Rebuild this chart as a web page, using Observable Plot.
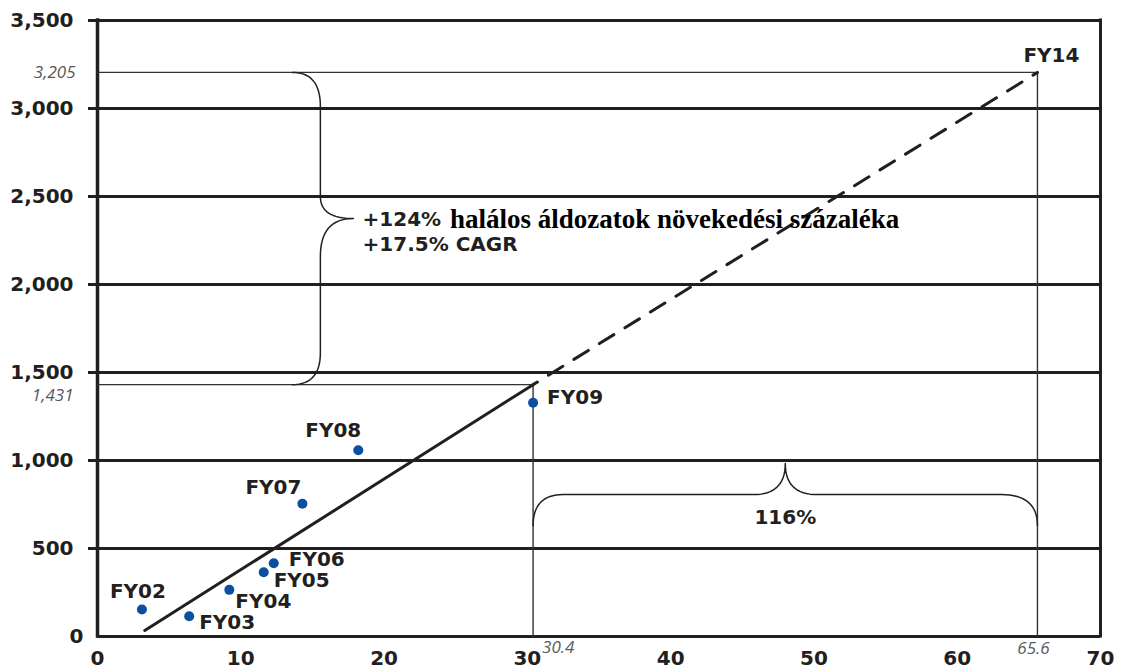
<!DOCTYPE html>
<html><head><meta charset="utf-8">
<script src="https://cdn.jsdelivr.net/npm/d3@7"></script>
<script src="https://cdn.jsdelivr.net/npm/@observablehq/plot@0.6"></script>
<style>
html,body{margin:0;padding:0;background:#fff;}
#chart{width:1121px;height:672px;overflow:hidden;}
</style></head><body><div id="chart"></div>
<script>
// ---- data ----
const years   = ["FY02","FY03","FY04","FY05","FY06","FY07","FY08","FY09"];
const xValues = [3.1, 6.4, 9.2, 11.6, 12.3, 14.3, 18.2, 30.4];
const yValues = [153, 115, 265, 365, 416, 754, 1058, 1328];
const trendX  = [3.3, 30.4];
const trendY  = [34, 1431];
const projX   = [30.4, 65.6];
const projY   = [1431, 3205];
const endLabel = "FY14";
const xTicks  = [0, 10, 20, 30, 40, 50, 60, 70];
const yTicks  = [500, 1000, 1500, 2000, 2500, 3000, 3500];
const refX    = [30.4, 65.6];
const refY    = [1431, 3205];
const growthLabel1 = "+124%";
const growthLabel1b = "halálos áldozatok növekedési százaléka";
const growthLabel2 = "+17.5% CAGR";
const xGrowthLabel = "116%";

// ---- layout / style ----
const W = 1121, H = 672, ML = 97, MR = 21, MT = 20, MB = 36;
const INK = "#231f20";
const SANS = "DejaVu Sans, Verdana, sans-serif";
const SERIF = "Liberation Serif, Times New Roman, serif";
const ITAL = "Open Sans, sans-serif";
const labelPos = {
  FY02: {a: "middle", dx: -4, dy: -18},
  FY03: {a: "start", dx: 10, dy: 6},
  FY04: {a: "start", dx: 6, dy: 12},
  FY05: {a: "start", dx: 10, dy: 8},
  FY06: {a: "start", dx: 15, dy: -4},
  FY07: {a: "end", dx: -1, dy: -16},
  FY08: {a: "end", dx: 3, dy: -20},
  FY09: {a: "start", dx: 14, dy: -5}
};

const points = years.map((k, i) => ({k, x: xValues[i], y: yValues[i]}));
const trend = trendX.map((x, i) => ({x, y: trendY[i]}));
const proj = projX.map((x, i) => ({x, y: projY[i]}));

// scales mirroring the plot scales, used to shape the braces
const xs = d3.scaleLinear([0, 70], [ML, W - MR]);
const ys = d3.scaleLinear([0, 3500], [H - MB, MT]);
function quad(p0, p1, p2, n = 16) {
  const o = [];
  for (let i = 0; i <= n; i++) {
    const t = i / n;
    o.push([(1-t)*(1-t)*p0[0] + 2*(1-t)*t*p1[0] + t*t*p2[0],
            (1-t)*(1-t)*p0[1] + 2*(1-t)*t*p1[1] + t*t*p2[1]]);
  }
  return o;
}
const toData = pts => pts.map(([px, py]) => ({x: xs.invert(px), y: ys.invert(py)}));

// vertical brace between the two reference values
const xe = xs(13.6), yT = ys(refY[1]), yB = ys(refY[0]);
const xsp = xe + 28, xt = xe + 61, yt = (yT + yB) / 2 - 10;
const braceV = toData([
  ...quad([xe, yT], [xsp, yT], [xsp, yT + 34]),
  ...quad([xsp, yt - 22], [xsp, yt], [xt, yt]),
  ...quad([xt, yt], [xsp, yt], [xsp, yt + 38]),
  ...quad([xsp, yB - 32], [xsp, yB], [xe, yB])
]);
// horizontal brace between the two reference x values
const xL = xs(refX[0]), xR = xs(refX[1]), ye = ys(630), sp = ye - 31, tipY = ye - 62, xm = (xL + xR) / 2;
const braceH = toData([
  ...quad([xL, ye], [xL, sp], [xL + 30, sp]),
  ...quad([xm - 32, sp], [xm, sp], [xm, tipY]),
  ...quad([xm, tipY], [xm, sp], [xm + 32, sp]),
  ...quad([xR - 36, sp], [xR, sp], [xR, ye])
]);

const labelMarks = points.map(p => {
  const s = labelPos[p.k];
  return Plot.text([p], {x: "x", y: "y", text: "k", textAnchor: s.a, dx: s.dx, dy: s.dy,
    fontSize: 20, fontWeight: "bold", fontFamily: SANS, fill: INK});
});

const chart = Plot.plot({
  width: W, height: H,
  marginLeft: ML, marginRight: MR, marginTop: MT, marginBottom: MB,
  style: {fontFamily: SANS, fontSize: "20px", fontWeight: "bold", color: INK, background: "#fff", overflow: "visible"},
  x: {domain: [0, 70], label: null},
  y: {domain: [0, 3500], label: null},
  marks: [
    // grid & frame
    Plot.ruleY(yTicks, {stroke: INK, strokeWidth: 3}),
    Plot.ruleY([0], {stroke: INK, strokeWidth: 3}),
    Plot.ruleX([0], {stroke: INK, strokeWidth: 3.5, y1: 0, y2: 3500, strokeLinecap: "square"}),
    Plot.ruleX([70], {stroke: INK, strokeWidth: 3, y1: 0, y2: 3500, strokeLinecap: "square"}),
    // reference lines
    Plot.ruleY([refY[1]], {x1: 0, x2: refX[1], stroke: "#333", strokeWidth: 1.4}),
    Plot.ruleY([refY[0]], {x1: 0, x2: refX[0], stroke: "#333", strokeWidth: 1.4}),
    Plot.ruleX([refX[0]], {y1: 0, y2: refY[0], stroke: "#333", strokeWidth: 1.4}),
    Plot.ruleX([refX[1]], {y1: 0, y2: refY[1], stroke: "#333", strokeWidth: 1.4}),
    // braces
    Plot.line(braceV, {x: "x", y: "y", stroke: INK, strokeWidth: 1.5}),
    Plot.line(braceH, {x: "x", y: "y", stroke: INK, strokeWidth: 1.5}),
    // trend
    Plot.line(trend, {x: "x", y: "y", stroke: INK, strokeWidth: 3}),
    Plot.line(proj, {x: "x", y: "y", stroke: INK, strokeWidth: 3, strokeDasharray: "17,13", strokeDashoffset: -18}),
    // points
    Plot.dot(points, {x: "x", y: "y", r: 5, fill: "#0b4ea2", stroke: "none"}),
    ...labelMarks,
    Plot.text([proj[1]], {x: "x", y: "y", text: () => endLabel, textAnchor: "start", dx: -14, dy: -17,
      fontSize: 20, fontWeight: "bold", fontFamily: SANS, fill: INK}),
    // reference value labels
    Plot.text([refY[1]], {x: () => 0, y: d => d, text: d => d3.format(",")(d), textAnchor: "end", dx: -22, dy: 0,
      fontSize: 17, fontStyle: "italic", fontWeight: "normal", fontFamily: ITAL, fill: "#58595b"}),
    Plot.text([refY[0]], {x: () => 0, y: d => d, text: d => d3.format(",")(d), textAnchor: "end", dx: -24, dy: 11,
      fontSize: 17, fontStyle: "italic", fontWeight: "normal", fontFamily: ITAL, fill: "#58595b"}),
    Plot.text([refX[0]], {x: d => d, y: () => 0, text: d => String(d), textAnchor: "start", dx: 9, dy: 11,
      fontSize: 17, fontStyle: "italic", fontWeight: "normal", fontFamily: ITAL, fill: "#58595b"}),
    Plot.text([refX[1]], {x: d => d, y: () => 0, text: d => String(d), textAnchor: "middle", dx: -4, dy: 12,
      fontSize: 17, fontStyle: "italic", fontWeight: "normal", fontFamily: ITAL, fill: "#58595b"}),
    // annotations
    Plot.text([{x: 18.5, y: 2369}], {x: "x", y: "y", text: () => growthLabel1, textAnchor: "start",
      fontSize: 20, fontWeight: "bold", fontFamily: SANS, fill: INK}),
    Plot.text([{x: 24.6, y: 2369}], {x: "x", y: "y", text: () => growthLabel1b, textAnchor: "start",
      fontSize: 27, fontWeight: "bold", fontFamily: SERIF, fill: "#000"}),
    Plot.text([{x: 18.5, y: 2224}], {x: "x", y: "y", text: () => growthLabel2, textAnchor: "start",
      fontSize: 20, fontWeight: "bold", fontFamily: SANS, fill: INK}),
    Plot.text([{x: (refX[0] + refX[1]) / 2, y: 676}], {x: "x", y: "y", text: () => xGrowthLabel, textAnchor: "middle",
      fontSize: 20, fontWeight: "bold", fontFamily: SANS, fill: INK}),
    // axes
    Plot.axisY({ticks: yTicks, tickSize: 9, tickPadding: 15, tickFormat: d3.format(","), strokeWidth: 3, stroke: INK,
      fontSize: 20, fontWeight: "bold", fill: INK}),
    Plot.axisY({ticks: [0], tickSize: 0, tickPadding: 14, tickFormat: d3.format(","), fontSize: 20, fontWeight: "bold", fill: INK}),
    Plot.axisX({ticks: xTicks, tickSize: 0, tickPadding: 14, tickFormat: d => String(d), fontSize: 20, fontWeight: "bold", fill: INK})
  ]
});
document.getElementById("chart").appendChild(chart);
</script>
</body></html>
